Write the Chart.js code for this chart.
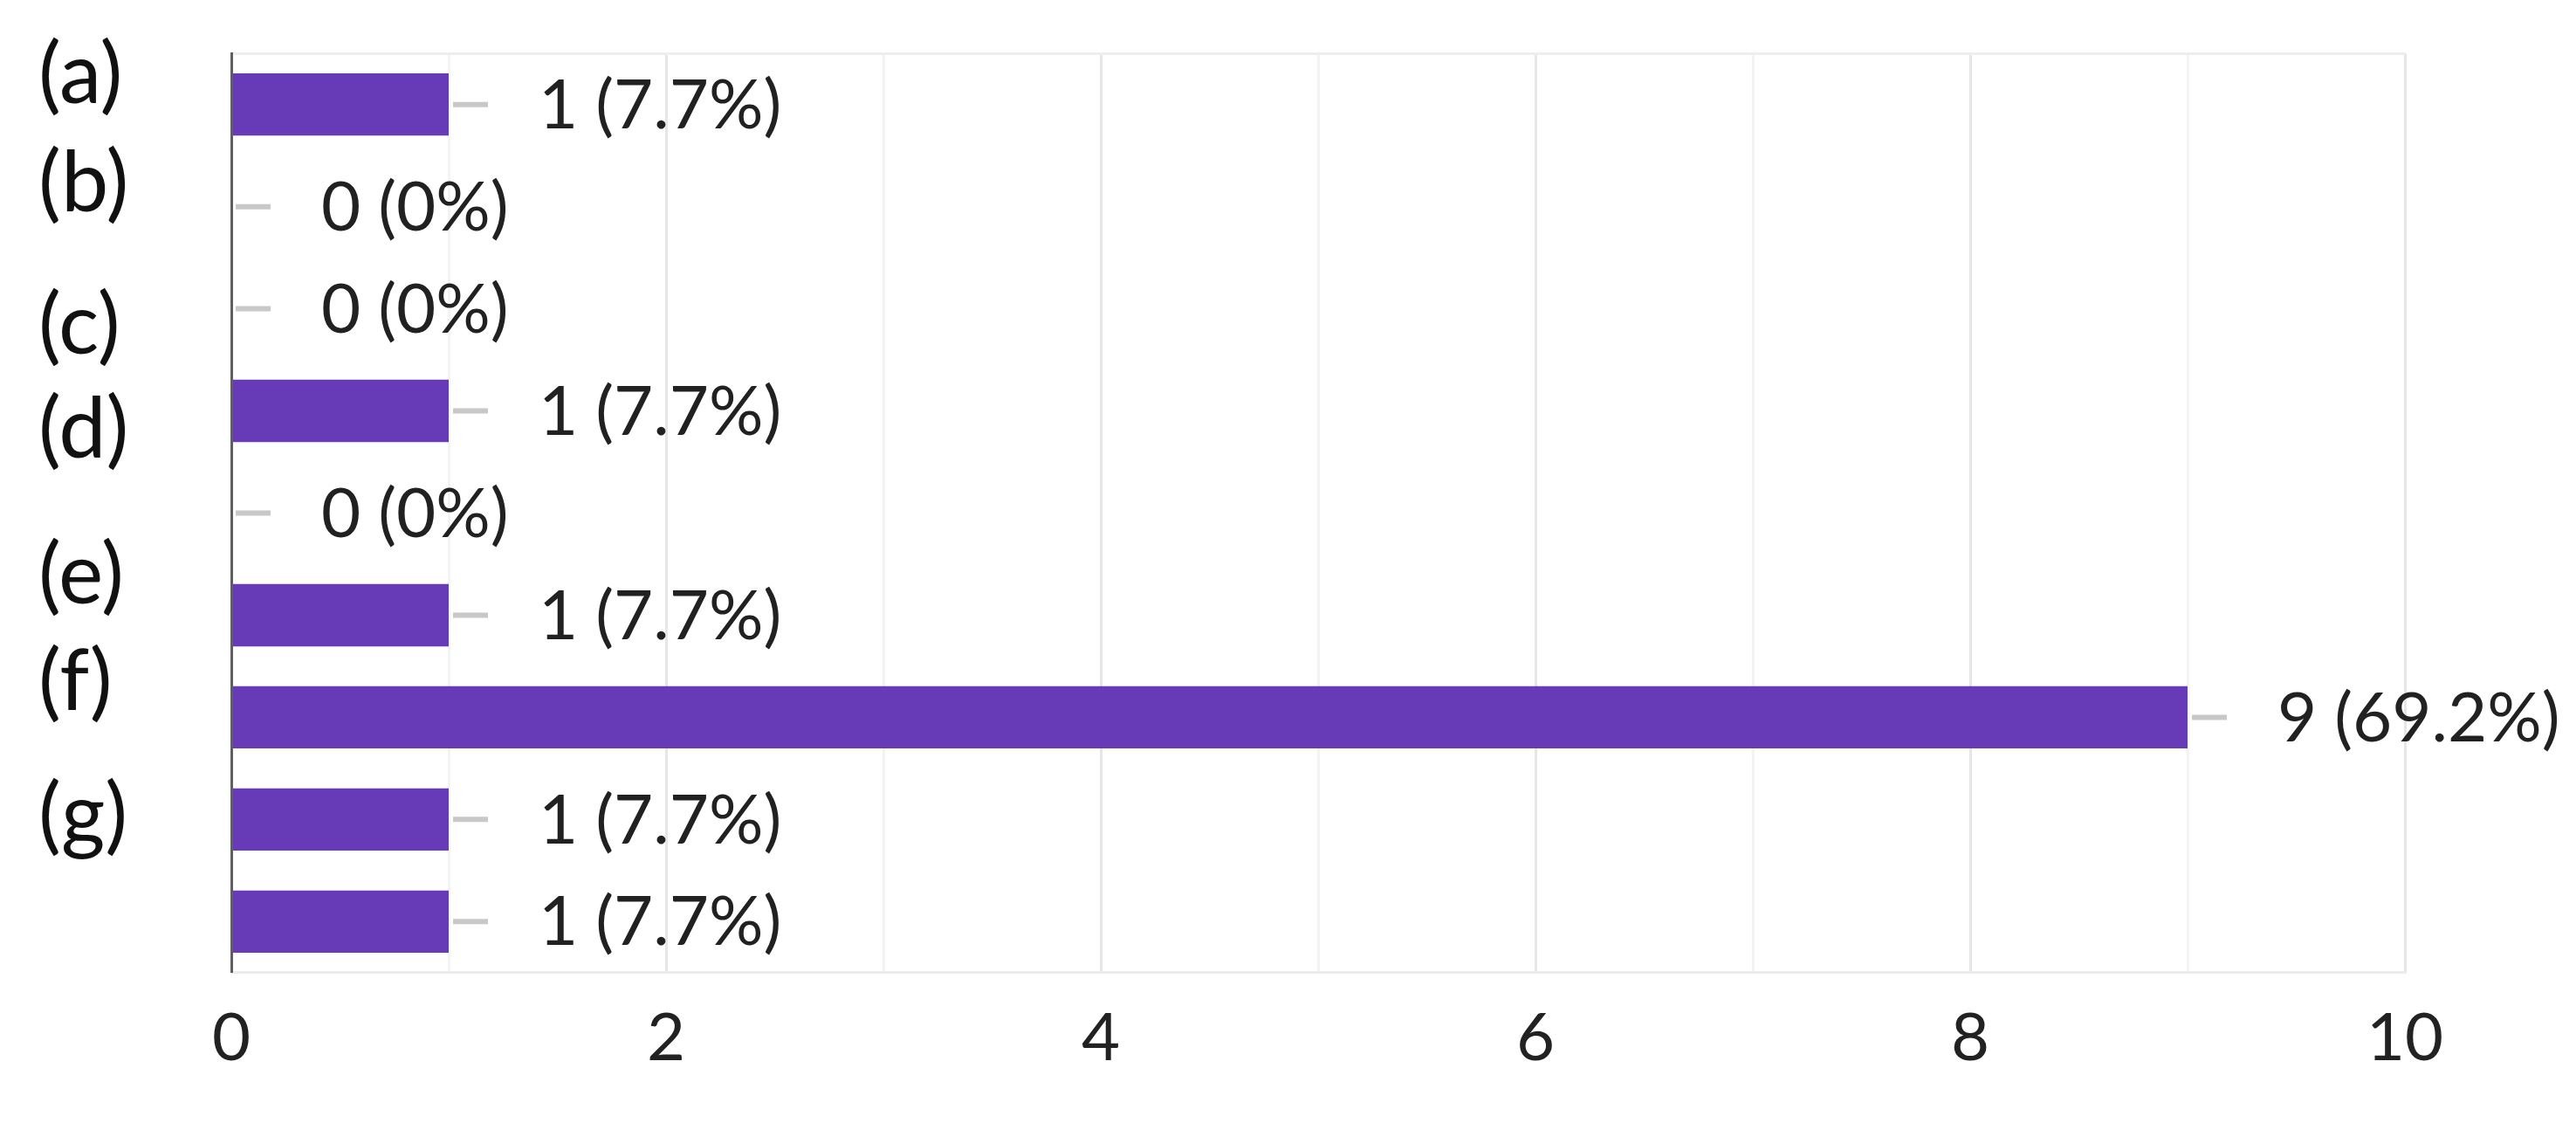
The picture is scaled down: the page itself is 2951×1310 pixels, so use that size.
<!DOCTYPE html>
<html>
<head>
<meta charset="utf-8">
<script src="https://cdn.jsdelivr.net/npm/chart.js@4"></script>
<style>
  body { margin: 0; background: #fff; }
  #wrap { width: 2951px; height: 1310px; }
</style>
</head>
<body>
<div id="wrap"><canvas id="chart"></canvas></div>
<script>
// one bar per row of the form response chart
var rows = ['r1', 'r2', 'r3', 'r4', 'r5', 'r6', 'r7', 'r8', 'r9'];
var counts = [1, 0, 0, 1, 0, 1, 9, 1, 1];
var percents = [7.7, 0, 0, 7.7, 0, 7.7, 69.2, 7.7, 7.7];

// option letters on the left (they sit between the bars, not on them)
var optionLabels = ['(a)', '(b)', '(c)', '(d)', '(e)', '(f)', '(g)'];
var optionTicks = [-0.28, 0.78, 2.17, 3.19, 4.62, 5.66, 6.97];

var xTicks = [0, 2, 4, 6, 8, 10];

var FONT = 'Lato';

// count (percent) labels with the little grey leader line
var valueLabels = {
    id: 'valueLabels',
    afterDatasetsDraw: function (chart) {
        var ctx = chart.ctx;
        var meta = chart.getDatasetMeta(0);
        ctx.save();
        meta.data.forEach(function (bar, i) {
            ctx.strokeStyle = '#c8c8c8';
            ctx.lineWidth = 6;
            ctx.beginPath();
            ctx.moveTo(bar.x + 5, bar.y);
            ctx.lineTo(bar.x + 45, bar.y);
            ctx.stroke();

            ctx.fillStyle = '#212121';
            ctx.font = '78px ' + FONT;
            ctx.textAlign = 'left';
            ctx.textBaseline = 'middle';
            ctx.fillText(counts[i] + ' (' + percents[i] + '%)', bar.x + 103, bar.y + 2);
        });
        ctx.restore();
    }
};

var ctx = document.getElementById('chart').getContext('2d');

var chartData = {
    labels: rows,
    datasets: [{
        data: counts,
        backgroundColor: '#673ab7',
        borderWidth: 0,
        categoryPercentage: 1.0,
        barPercentage: 0.61
    }]
};

var options = {
    indexAxis: 'y',
    responsive: true,
    maintainAspectRatio: false,
    animation: false,
    layout: { padding: { top: 54, left: 44, right: 196, bottom: 45 } },
    plugins: {
        legend: { display: false },
        tooltip: { enabled: false }
    },
    scales: {
        x: {
            type: 'linear',
            position: 'bottom',
            min: 0,
            max: 10,
            afterBuildTicks: function (axis) {
                var t = [];
                for (var v = 0; v <= 10; v++) t.push({ value: v });
                axis.ticks = t;
            },
            ticks: {
                autoSkip: false,
                maxRotation: 0,
                padding: 30,
                color: '#222',
                font: { family: FONT, size: 76 },
                callback: function (value) {
                    return xTicks.indexOf(value) >= 0 ? String(value) : '';
                }
            },
            grid: {
                drawTicks: false,
                lineWidth: 3,
                color: function (c) {
                    if (!c.tick || c.tick.value === 0) return 'rgba(0,0,0,0)';
                    return c.tick.value % 2 === 0 ? '#e6e6e6' : '#f3f3f3';
                }
            },
            border: { display: true, color: '#ececec', width: 3 }
        },
        xTop: {
            type: 'linear',
            position: 'top',
            min: 0,
            max: 10,
            ticks: { display: false },
            grid: { display: false, drawTicks: false },
            border: { display: true, color: '#eeeeee', width: 3 }
        },
        y: {
            type: 'category',
            position: 'left',
            weight: 0,
            offset: true,
            ticks: { display: false },
            grid: { display: false, drawTicks: false },
            border: { display: true, color: '#5f5f5f', width: 3, z: 1 }
        },
        yOptions: {
            type: 'linear',
            position: 'left',
            weight: 1,
            reverse: true,
            offset: false,
            min: -0.5,
            max: 8.5,
            afterBuildTicks: function (axis) {
                axis.ticks = optionTicks.map(function (v) { return { value: v }; });
            },
            afterFit: function (axis) {
                axis.width = 221;
            },
            ticks: {
                autoSkip: false,
                crossAlign: 'far',
                color: '#111',
                font: { family: FONT, size: 97 },
                callback: function (value, index) {
                    return optionLabels[index];
                }
            },
            grid: { display: false, drawTicks: false },
            border: { display: false }
        }
    }
};

var myChart = new Chart(ctx, {
    type: 'bar',
    data: chartData,
    options: options,
    plugins: [valueLabels]
});
</script>
</body>
</html>
